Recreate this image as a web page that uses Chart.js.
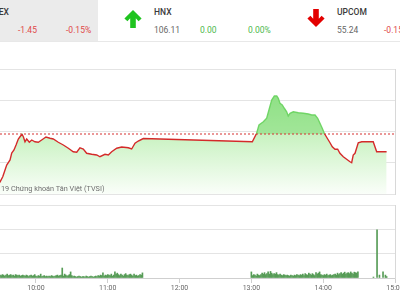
<!DOCTYPE html>
<html><head><meta charset="utf-8">
<script src="https://cdn.jsdelivr.net/npm/chart.js@4"></script>
<style>
html,body{margin:0;padding:0;width:400px;height:300px;overflow:hidden;background:#fff;font-family:Roboto,"Liberation Sans",sans-serif;}
#hdr{position:absolute;left:0;top:0;width:400px;height:41px;border-bottom:1px solid #e8e8e8;}
#gray{position:absolute;left:0;top:0;width:98px;height:41px;background:#ebebeb;}
.t{position:absolute;white-space:nowrap;font-size:8.5px;line-height:10px;}
.name{color:#3a3a3a;font-weight:500;}
.val{color:#666;}
.red{color:#e04848;}
.green{color:#4cb84c;}
svg.arr{position:absolute;}
#c1wrap{position:absolute;left:0;top:60px;width:400px;height:140px;}
#c2wrap{position:absolute;left:0;top:198px;width:400px;height:102px;}
#wm{position:absolute;left:1px;top:184px;font-size:7.3px;line-height:9px;color:#6f6f6f;white-space:nowrap;}
</style>
</head>
<body>
<div id="hdr">
  <div id="gray"></div>
  <div class="t name" style="right:391px;top:7px;">VNINDEX</div>
  <div class="t red" style="left:18px;top:25px;">-1.45</div>
  <div class="t red" style="left:66px;top:25px;">-0.15%</div>
  <svg class="arr" style="left:124px;top:10px;" width="18" height="18" viewBox="0 0 18 18"><path d="M9 0 L17.6 8.4 L14.6 11.2 L11.8 8.2 L11.8 18 L6.2 18 L6.2 8.2 L3.4 11.2 L0.4 8.4 Z" fill="#1fc41f"/></svg>
  <div class="t name" style="left:154px;top:7px;">HNX</div>
  <div class="t val" style="left:154px;top:25px;">106.11</div>
  <div class="t green" style="left:200px;top:25px;">0.00</div>
  <div class="t green" style="left:248px;top:25px;">0.00%</div>
  <svg class="arr" style="left:307px;top:9px;" width="18" height="18" viewBox="0 0 18 18"><path d="M9 18 L17.6 9.6 L14.6 6.8 L11.8 9.8 L11.8 0 L6.2 0 L6.2 9.8 L3.4 6.8 L0.4 9.6 Z" fill="#e30000"/></svg>
  <div class="t name" style="left:337px;top:7px;">UPCOM</div>
  <div class="t val" style="left:337px;top:25px;">55.24</div>
  <div class="t red" style="left:384px;top:25px;">-0.15%</div>
</div>
<div id="c1wrap"><canvas id="c1"></canvas></div>
<div id="c2wrap"><canvas id="c2"></canvas></div>
<div id="wm">19 Chứng khoán Tân Việt (TVSI)</div>
<script>
// ---- data ----
const refValue = 968.8;
const priceMin = 964, priceMax = 974, priceStep = 2.5;
const xMin = 570, xMax = 900; // minutes after midnight (9:30 .. 15:00)
const priceTimes = [568,570,572.3,575.6,578.4,579.8,581.7,583.4,585.3,586.7,
  588.4,589.5,590.9,592.3,594.5,596.5,599.2,602,604.8,608.4,
  611.8,614.5,618.7,622.9,627.1,631.2,634.1,636.8,639.6,642.4,
  646.6,650.8,653.5,657.7,660.5,663.3,667.5,671.7,677.2,680,
  682.8,685.5,689.7,
  780.8,784.4,786.4,790,792.8,794.7,797,799.2,801.2,802.5,
  803.9,805.8,807.5,809.5,810.8,812.3,815,819.2,823.4,827.6,
  830.4,833.2,835.4,837.3,839.2,840.9,842.9,845.7,847.6,849.9,
  852.1,854,856.8,859.6,862.4,863.8,865.1,866.6,869.3,872.2,
  881.8,884.7,893];
const priceValues = [964.80,964.96,965.38,966.32,966.72,967.28,967.52,967.92,968.40,968.58,
  968.78,968.58,968.18,968.40,968.14,968.32,968.18,968.14,968.32,968.56,
  968.46,968.40,968.14,967.92,967.66,967.38,967.34,967.70,967.60,967.26,
  967.18,967.12,966.98,967.18,967.12,967.38,967.66,967.76,967.70,967.60,
  968.06,968.24,968.44,
  968.18,968.86,969.52,969.78,970.06,970.72,971.52,971.84,971.84,971.66,
  971.26,971.12,970.86,970.58,970.24,970.46,970.58,970.50,970.46,970.40,
  970.32,970.32,970.06,969.66,969.26,968.86,968.54,968.10,967.78,967.58,
  967.58,967.26,966.98,966.78,966.58,966.50,967.12,967.26,968.10,968.18,
  968.18,967.38,967.38];
const volMorningStart = 570;
const volMorning = [1.2,1.0,1.4,1.2,0.8,1.2,1.6,1.0,1.2,1.4,
  1.0,1.2,0.8,1.4,1.2,1.0,1.2,0.8,1.0,1.2,
  1.0,0.8,1.2,1.0,0.6,1.0,1.2,0.8,1.0,1.4,
  0.8,0.6,1.0,0.8,1.6,0.6,0.8,1.0,0.6,0.8,
  0.6,0.8,0.6,1.0,0.8,0.6,0.8,1.0,1.2,0.8,
  1.0,1.2,4.1,0.8,1.6,1.2,0.8,1.0,1.4,2.5,
  1.0,0.6,0.8,0.6,0.4,0.6,0.8,0.6,0.4,0.6,
  0.6,0.4,0.8,0.6,0.4,0.6,0.8,0.6,0.4,0.6,
  0.8,0.6,1.0,0.8,1.2,1.0,2.1,0.8,1.2,1.0,
  1.4,1.2,1.0,1.6,0.8,1.2,2.5,1.6,2.0,1.4,
  1.0,1.6,1.2,0.8,1.4,1.8,1.2,1.0,1.4,1.6,
  1.2,0.8,1.6,1.0,1.2,0.8,1.0,1.4,1.2,2.1];
const volAfternoonStart = 780;
const volAfternoon = [2.5,1.0,1.4,1.2,0.8,1.6,1.2,1.0,1.4,2.0,
  1.6,2.2,1.4,1.8,2.5,1.6,2.7,2.0,1.4,1.8,
  1.6,2.2,1.4,1.2,1.6,1.2,1.0,1.4,1.2,1.0,
  1.2,1.0,0.8,1.2,1.0,0.8,1.2,1.0,1.4,1.2,
  1.0,1.4,1.2,1.6,1.0,1.8,1.4,1.2,2.0,1.6,
  1.2,1.8,1.4,1.0,2.2,1.6,2.0,2.5,1.4,1.2,
  1.0,1.4,1.2,1.6,1.0,1.2,1.4,1.0,1.2,1.4,
  1.6,1.2,2.0,1.4,1.8,2.2,1.6,2.0,2.4,1.6,
  2.0,2.2,1.8,2.5,2.0,1.6,2.4,2.2,2.0,2.5];
const volCloseTimes = [882,885,887,890,892,893];
const volCloseValues = [0.4,19.8,1.2,2.5,1.2,0.6];
const volMax = 30, volStep = 10;
const tickTimes = [600,660,720,780,840,900];
const tickLabels = ['10:00','11:00','12:00','13:00','14:00','15:00'];

// ---- helpers ----
function refFrac(chart){
  const a = chart.chartArea, y = chart.scales.y;
  return Math.min(1, Math.max(0, (y.getPixelForValue(refValue) - a.top) / (a.bottom - a.top)));
}
function lineGrad(chart){
  const a = chart.chartArea; if(!a) return '#d42a2a';
  const p = refFrac(chart);
  const g = chart.ctx.createLinearGradient(0, a.top, 0, a.bottom);
  g.addColorStop(0, '#74d66a'); g.addColorStop(p, '#74d66a');
  g.addColorStop(p, '#d42a2a'); g.addColorStop(1, '#d42a2a');
  return g;
}
function fillGrad(chart){
  const a = chart.chartArea; if(!a) return 'rgba(200,242,192,1)';
  const p = refFrac(chart);
  const g = chart.ctx.createLinearGradient(0, a.top, 0, a.bottom);
  g.addColorStop(0, 'rgb(150,228,140)');
  g.addColorStop(p, 'rgb(200,242,192)');
  g.addColorStop(1, 'rgb(250,254,249)');
  return g;
}

const pricePts = priceTimes.map((t,i)=>({x:t, y:priceValues[i]}));
const volPts = volMorning.map((v,i)=>({x:volMorningStart+i, y:v}))
  .concat(volAfternoon.map((v,i)=>({x:volAfternoonStart+i, y:v})))
  .concat(volCloseTimes.map((t,i)=>({x:t, y:volCloseValues[i]})));

Chart.defaults.font.family = 'Roboto, "Liberation Sans", sans-serif';

new Chart(document.getElementById('c1'), {
  type: 'line',
  data: { datasets: [
    { data: [{x:xMin,y:refValue},{x:xMax,y:refValue}], borderColor:'#d63030', borderWidth:1,
      borderDash:[2,2], pointRadius:0, fill:false, order:0 },
    { data: pricePts, borderWidth:0, pointRadius:0, order:1,
      fill:{target:{value:refValue}, above:'rgba(100,210,90,0.38)', below:'rgba(0,0,0,0)'} },
    { data: pricePts, borderColor: c=>lineGrad(c.chart), backgroundColor: c=>fillGrad(c.chart),
      borderWidth:1.4, pointRadius:0, fill:'start', order:2 }
  ]},
  options: {
    responsive:true, maintainAspectRatio:false, animation:false,
    layout:{padding:{top:9,bottom:6,left:0,right:5}},
    plugins:{legend:{display:false}, tooltip:{enabled:false}},
    elements:{line:{tension:0}},
    scales:{
      x:{type:'linear', min:xMin, max:xMax, display:false},
      y:{position:'right', min:priceMin, max:priceMax,
         ticks:{display:false, stepSize:priceStep},
         grid:{color:'#e4e4e4', drawTicks:false},
         border:{display:true, color:'#d8d8d8'}}
    }
  }
});

new Chart(document.getElementById('c2'), {
  type: 'bar',
  data: { datasets: [{ data: volPts, backgroundColor:'#579c57', barThickness:1, borderWidth:0 }]},
  options: {
    responsive:true, maintainAspectRatio:false, animation:false,
    layout:{padding:{top:7,bottom:0,left:0,right:5}},
    plugins:{legend:{display:false}, tooltip:{enabled:false}},
    scales:{
      x:{type:'linear', min:xMin, max:xMax, offset:false,
         afterBuildTicks: s => { s.ticks = tickTimes.map(v=>({value:v})); },
         afterFit: s => { s.height = 22; s.paddingLeft = 0; s.paddingRight = 0; },
         ticks:{ callback: v => tickLabels[tickTimes.indexOf(v)], font:{size:7}, color:'#666',
                 padding:1, maxRotation:0, autoSkip:false },
         grid:{drawOnChartArea:false, drawTicks:true, tickLength:5, color:'#cfcfcf', offset:false},
         border:{display:true, color:'#cfcfcf'}},
      y:{position:'right', min:0, max:volMax,
         ticks:{display:false, stepSize:volStep},
         grid:{color:'#e4e4e4', drawTicks:false},
         border:{display:true, color:'#d8d8d8'}}
    }
  }
});
</script>
</body></html>
